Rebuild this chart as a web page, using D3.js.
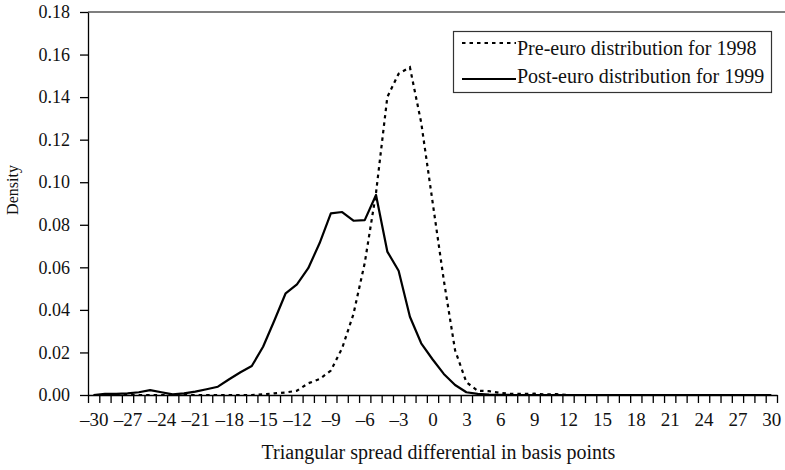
<!DOCTYPE html>
<html>
<head>
<meta charset="utf-8">
<script src="https://cdn.jsdelivr.net/npm/d3@7"></script>
<style>
  html, body { margin: 0; padding: 0; background: #fff; }
  svg { display: block; }
  svg text { font-family: "Liberation Serif", "Times New Roman", serif; }
  .axis path, .axis line { stroke: #000; stroke-width: 1.3; }
  .axis text { fill: #111; }
</style>
</head>
<body>
<svg id="chart" width="785" height="470"></svg>
<script>
// spread differential categories (basis points)
const categories = d3.range(-30, 31);

// pre-euro density, 1998 (dotted)
const pre1998 = [
  0, 0, 0, 0, 0, 0, 0, 0, 0, 0,              // -30 .. -21
  0, 0, 0, 0, 0, 0.0003, 0.0008, 0.0012, 0.002, 0.0055, // -20 .. -11
  0.0075, 0.0115, 0.022, 0.038, 0.062, 0.095, 0.140, 0.151, 0.154, 0.128, // -10 .. -1
  0.091, 0.054, 0.021, 0.006, 0.002, 0.0018, 0.001, 0.0005, 0.0005, 0.0006, // 0 .. 9
  0.0003, 0.0004, 0, 0, 0, 0, 0, 0, 0, 0,    // 10 .. 19
  0, 0, 0, 0, 0, 0, 0, 0, 0, 0, 0            // 20 .. 30
];

// post-euro density, 1999 (solid)
const post1999 = [
  0.0, 0.0005, 0.0005, 0.0008, 0.0013, 0.0023, 0.0013, 0.0003, 0.0008, 0.0016, // -30 .. -21
  0.0027, 0.0039, 0.0074, 0.0107, 0.0136, 0.0227, 0.035, 0.0478, 0.052, 0.0596, // -20 .. -11
  0.0713, 0.0854, 0.0860, 0.0819, 0.0822, 0.094, 0.0674, 0.0584, 0.0368, 0.0243, // -10 .. -1
  0.0168, 0.0099, 0.0047, 0.0013, 0.0005, 0.0002, 0.0001, 0, 0, 0,           // 0 .. 9
  0, 0, 0, 0, 0, 0, 0, 0, 0, 0,             // 10 .. 19
  0, 0, 0, 0, 0, 0, 0, 0, 0, 0, 0           // 20 .. 30
];

const yTicks = [0, 0.02, 0.04, 0.06, 0.08, 0.10, 0.12, 0.14, 0.16, 0.18];
const xLabels = d3.range(-30, 31, 3);
const seriesNames = ["Pre-euro distribution for 1998", "Post-euro distribution for 1999"];

const svg = d3.select('#chart');
const pLeft = 88, pRight = 777, pTop = 12, pBottom = 395;

// category axis: ticks sit between categories, points at centres
const x = d3.scaleLinear().domain([-30.5, 30.5]).range([pLeft, pRight]);
const y = d3.scaleLinear().domain([0, 0.18]).range([pBottom, pTop]);

const fmtX = d => d < 0 ? '\u2013' + Math.abs(d) : String(d);
const serif = '"Liberation Serif", "Times New Roman", serif';

// top frame line
svg.append('line')
  .attr('x1', pLeft).attr('x2', 785).attr('y1', pTop).attr('y2', pTop)
  .attr('stroke', '#555').attr('stroke-width', 1.3);

// y axis
svg.append('g').attr('class', 'axis')
  .attr('transform', `translate(${pLeft},0)`)
  .call(d3.axisLeft(y).tickValues(yTicks).tickFormat(d3.format('.2f')).tickSize(8).tickSizeOuter(0).tickPadding(10))
  .attr('font-family', serif)
  .call(g => g.selectAll('text').style('font-size', '18px'));

// x axis: boundary ticks
svg.append('g').attr('class', 'axis')
  .attr('transform', `translate(0,${pBottom})`)
  .call(d3.axisBottom(x).tickValues(d3.range(-30.5, 31, 1)).tickFormat('').tickSize(8).tickSizeOuter(0));

// x axis labels every 3rd category
svg.append('g').attr('class', 'axis')
  .attr('transform', `translate(0,${pBottom})`)
  .call(d3.axisBottom(x).tickValues(xLabels).tickFormat(fmtX).tickSize(0).tickPadding(18))
  .attr('font-family', serif)
  .call(g => g.select('.domain').remove())
  .call(g => g.selectAll('text').style('font-size', '19px'));

const line = d3.line().x((d, i) => x(categories[i])).y(d => y(d));

svg.append('path').datum(pre1998)
  .attr('d', line).attr('fill', 'none')
  .attr('stroke', '#000').attr('stroke-width', 2.2)
  .attr('stroke-dasharray', '3.5 4');

svg.append('path').datum(post1999)
  .attr('d', line).attr('fill', 'none')
  .attr('stroke', '#000').attr('stroke-width', 2.2)
  .attr('stroke-linejoin', 'round');

// axis titles
svg.append('text')
  .attr('x', (pLeft + pRight) / 2 + 6).attr('y', 459)
  .attr('text-anchor', 'middle').style('font-size', '20px').attr('fill', '#111')
  .text('Triangular spread differential in basis points');

svg.append('text')
  .attr('transform', 'translate(18,190) rotate(-90)')
  .attr('text-anchor', 'middle').style('font-size', '16px').attr('fill', '#111')
  .text('Density');

// legend
const lg = svg.append('g');
lg.append('rect')
  .attr('x', 453.5).attr('y', 31.5).attr('width', 318).attr('height', 61)
  .attr('fill', '#fff').attr('stroke', '#333').attr('stroke-width', 1.2);

const sampleY = [43, 79], labelY = [55, 83];

const rows = lg.selectAll('.row').data(seriesNames).join('g')
  .attr('class', 'row');

rows.append('line')
  .attr('x1', 462).attr('x2', 516)
  .attr('y1', (d, i) => sampleY[i]).attr('y2', (d, i) => sampleY[i])
  .attr('stroke', '#000').attr('stroke-width', 2.2)
  .attr('stroke-dasharray', (d, i) => i === 0 ? '3.5 4' : null);

rows.append('text')
  .attr('x', 517).attr('y', (d, i) => labelY[i])
  .style('font-size', '20px').attr('fill', '#111')
  .text(d => d);
</script>
</body>
</html>
